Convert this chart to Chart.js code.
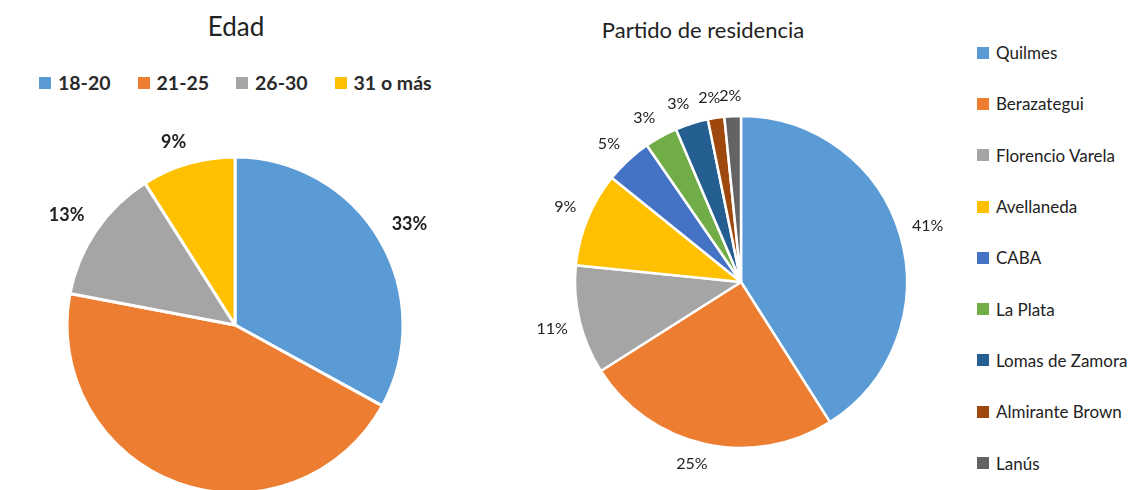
<!DOCTYPE html>
<html>
<head>
<meta charset="utf-8">
<script src="https://cdn.jsdelivr.net/npm/chart.js@4.4.1/dist/chart.umd.min.js"></script>
<style>
    html, body { margin: 0; padding: 0; background: #fff; }
    body { width: 1132px; height: 490px; position: relative; overflow: hidden; font-family: Lato, 'Open Sans', sans-serif; color: #222; }
    .title { position: absolute; white-space: nowrap; transform: translate(-50%, -50%); line-height: 1; }
    .box { display: inline-block; width: 12px; height: 12px; margin-right: 7px; }
    .legend_top { position: absolute; left: 39px; top: 71px; display: flex; font-size: 19.5px; font-weight: 700; line-height: 24px; color: #2a2a2a; }
    .legend_top .item { display: flex; align-items: center; margin-right: 27px; }
    .legend_right { position: absolute; left: 977px; top: 27px; font-size: 17px; line-height: 1; }
    .legend_right .item { display: flex; align-items: center; height: 51.3px; white-space: nowrap; }
    .chart_wrap { position: absolute; }
</style>
</head>
<body>
<div class="title" style="left:236px; top:26px; font-size:26px;">Edad</div>
<div class="title" style="left:703px; top:30px; font-size:22px;">Partido de residencia</div>
<div class="legend_top" id="legendEdad"></div>
<div class="legend_right" id="legendPartido"></div>
<div class="chart_wrap" style="left:0px; top:0px; width:470px; height:650px;"><canvas id="edadChart"></canvas></div>
<div class="chart_wrap" style="left:501px; top:42px; width:480px; height:480px;"><canvas id="partidoChart"></canvas></div>
<script>
const edadLabels = ['18-20', '21-25', '26-30', '31 o más']
const edadValues = [33, 45, 13, 9]
const edadColors = ['#5B9BD5', '#ED7D31', '#A5A5A5', '#FFC000']

const partidoLabels = ['Quilmes', 'Berazategui', 'Florencio Varela', 'Avellaneda', 'CABA', 'La Plata', 'Lomas de Zamora', 'Almirante Brown', 'Lanús']
const partidoValues = [41, 25, 10.6, 9.2, 4.6, 3.2, 3.2, 1.6, 1.6]
const partidoColors = ['#5B9BD5', '#ED7D31', '#A5A5A5', '#FFC000', '#4472C4', '#70AD47', '#255E91', '#9E480E', '#636363']

const clamp = v => Math.max(-1, Math.min(1, v))

// percentages drawn just outside each slice, like "outside end" labels
const outsideLabels = {
    id: 'outsideLabels',
    afterDatasetsDraw(chart, args, opts) {
        const ctx = chart.ctx
        const meta = chart.getDatasetMeta(0)
        const data = chart.data.datasets[0].data
        const total = data.reduce((a, b) => a + b, 0)
        ctx.save()
        ctx.font = opts.font
        ctx.fillStyle = opts.color
        ctx.textAlign = 'center'
        ctx.textBaseline = 'middle'
        meta.data.forEach((arc, i) => {
            const { x, y, startAngle, endAngle, outerRadius } = arc.getProps(['x', 'y', 'startAngle', 'endAngle', 'outerRadius'], true)
            const mid = (startAngle + endAngle) / 2
            const cos = Math.cos(mid), sin = Math.sin(mid)
            const text = Math.round(data[i] / total * 100) + '%'
            const w = ctx.measureText(text).width
            const d = outerRadius + opts.gap
            ctx.fillText(text, x + d * cos + w / 2 * clamp(cos * 3), y + d * sin + opts.height / 2 * clamp(sin * 3))
        })
        ctx.restore()
    }
}

const makeLegend = (id, labels, colors) => {
    const el = document.getElementById(id)
    labels.forEach((label, i) => {
        const item = document.createElement('div')
        item.className = 'item'
        item.innerHTML = '<span class="box" style="background:' + colors[i] + '"></span><span>' + label + '</span>'
        el.appendChild(item)
    })
}
makeLegend('legendEdad', edadLabels, edadColors)
makeLegend('legendPartido', partidoLabels, partidoColors)

const pieOptions = (radius, labelFont, gap) => ({
    responsive: true,
    maintainAspectRatio: false,
    animation: false,
    events: [],
    radius: radius,
    layout: { padding: 0 },
    plugins: {
        legend: { display: false },
        title: { display: false },
        tooltip: { enabled: false },
        outsideLabels: { font: labelFont, color: '#222', gap: gap, height: 16 }
    }
})

new Chart(document.getElementById('edadChart'), {
    type: 'pie',
    data: {
        labels: edadLabels,
        datasets: [{ data: edadValues, backgroundColor: edadColors, borderColor: '#fff', borderWidth: 3 }]
    },
    options: pieOptions(168, '700 18px Lato', 14),
    plugins: [outsideLabels]
})

new Chart(document.getElementById('partidoChart'), {
    type: 'pie',
    data: {
        labels: partidoLabels,
        datasets: [{ data: partidoValues, backgroundColor: partidoColors, borderColor: '#fff', borderWidth: 2.5 }]
    },
    options: pieOptions(166, '400 16px Lato', 12),
    plugins: [outsideLabels]
})
</script>
</body>
</html>
